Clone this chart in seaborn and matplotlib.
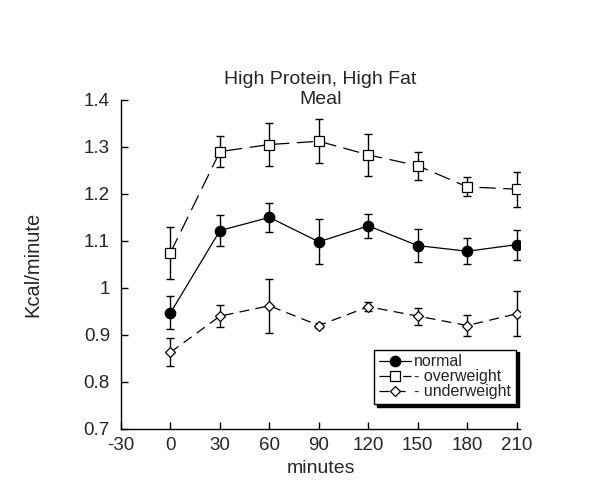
import numpy as np
import pandas as pd
import matplotlib
matplotlib.use("Agg")
import matplotlib.pyplot as plt
import seaborn as sns

minutes = [0, 30, 60, 90, 120, 150, 180, 210]
normal = [0.947, 1.122, 1.150, 1.098, 1.132, 1.090, 1.078, 1.092]
normal_err = [0.035, 0.033, 0.030, 0.048, 0.025, 0.035, 0.028, 0.032]
overweight = [1.075, 1.290, 1.305, 1.312, 1.283, 1.260, 1.215, 1.210]
overweight_err = [0.055, 0.033, 0.045, 0.047, 0.045, 0.030, 0.020, 0.037]
underweight = [0.863, 0.940, 0.962, 0.920, 0.960, 0.940, 0.920, 0.945]
underweight_err = [0.030, 0.023, 0.058, 0.005, 0.010, 0.018, 0.022, 0.048]
labels = ["normal", "- overweight", "- underweight"]
xticks = [-30, 0, 30, 60, 90, 120, 150, 180, 210]
yticks = [0.7, 0.8, 0.9, 1.0, 1.1, 1.2, 1.3, 1.4]
yticklabels = ["0.7", "0.8", "0.9", "1", "1.1", "1.2", "1.3", "1.4"]

sns.set_style("white")
plt.rcParams['font.family'] = ['Liberation Sans', 'DejaVu Sans']

fig = plt.figure(figsize=(6.0, 4.97), dpi=100)
ax = fig.add_axes([0.2017, 0.137, 0.665, 0.662])

series = [
    (normal, normal_err, labels[0], "o", "black", None, 7.5),
    (overweight, overweight_err, labels[1], "s", "white", (13, 6), 6.5),
    (underweight, underweight_err, labels[2], "D", "white", (8, 5), 5),
]
for vals, errs, lab, mk, fc, dash, ms in series:
    df = pd.DataFrame({"minutes": minutes, "kcal": vals})
    ax.errorbar(minutes, vals, yerr=errs, fmt="none", ecolor="black",
                elinewidth=1, capsize=2.7, capthick=1, zorder=2)
    sns.lineplot(data=df, x="minutes", y="kcal", ax=ax, color="black",
                 linewidth=0.9, marker=mk, markersize=ms,
                 markerfacecolor=fc, markeredgecolor="black",
                 markeredgewidth=0.9, label=lab, zorder=3)
    line = ax.lines[-1]
    if dash is not None:
        line.set_dashes(dash)

ax.set_xlim(-30, 212)
ax.set_ylim(0.7, 1.4)
ax.set_xticks(xticks)
ax.set_xticklabels([str(t) for t in xticks])
ax.set_yticks(yticks)
ax.set_yticklabels(yticklabels)
ax.tick_params(direction="in", length=5, width=1, labelsize=13.5, color="black",
               left=True, bottom=True)
ax.tick_params(axis="y", pad=8)
ax.tick_params(axis="x", pad=6)
for s in ["top", "right"]:
    ax.spines[s].set_visible(False)
for s in ["left", "bottom"]:
    ax.spines[s].set_color("black")
    ax.spines[s].set_linewidth(1)

ax.set_xlabel("minutes", fontsize=14, labelpad=4)
ax.set_ylabel("Kcal/minute", fontsize=14.5, labelpad=30)
ax.set_title("High Protein, High Fat\nMeal", fontsize=14, linespacing=1.2, pad=-3)

leg = ax.legend(loc="lower right", bbox_to_anchor=(0.99, 0.075), frameon=True,
                shadow={"color": "black", "alpha": 1}, fancybox=False,
                fontsize=11.5, handlelength=2.0, handletextpad=0.2,
                labelspacing=0.0, borderpad=0.3, borderaxespad=0)
leg.get_frame().set_edgecolor("black")
leg.get_frame().set_linewidth(1)

fig.savefig("out.png", dpi=100, facecolor="white")
